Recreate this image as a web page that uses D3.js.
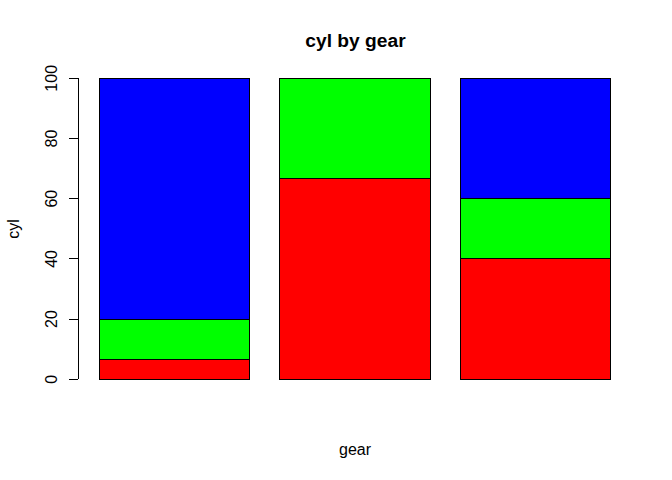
<!DOCTYPE html>
<html><head><meta charset="utf-8">
<script src="https://cdn.jsdelivr.net/npm/d3@7"></script>
<style>body{margin:0;background:#fff}svg{display:block}</style>
</head><body>
<script>
const gears = ["3", "4", "5"];
const cylLevels = ["4", "6", "8"];
const cyl4 = [6.667, 66.667, 40];
const cyl6 = [13.333, 33.333, 20];
const cyl8 = [80, 0, 40];
const yTicks = [0, 20, 40, 60, 80, 100];
const colors = ["#ff0000", "#00ff00", "#0000ff"];

const W = 672, H = 480;
const svg = d3.select("body").append("svg").attr("width", W).attr("height", H)
  .style("font-family", "'Liberation Sans', Arial, sans-serif");

const x = d3.scaleBand().domain(gears).range([84.3, 626]).paddingInner(0.1662).paddingOuter(0.0831);
const y = d3.scaleLinear().domain([0, 100]).range([379.3, 78.3]);

const rows = gears.map((g, i) => ({gear: g, "4": cyl4[i], "6": cyl6[i], "8": cyl8[i]}));
const series = d3.stack().keys(cylLevels)(rows);

svg.append("g").selectAll("g").data(series).join("g")
  .attr("fill", (d, i) => colors[i])
  .selectAll("rect").data(d => d.filter(s => s[1] - s[0] > 0)).join("rect")
  .attr("x", d => x(d.data.gear))
  .attr("width", x.bandwidth())
  .attr("y", d => y(d[1]))
  .attr("height", d => y(d[0]) - y(d[1]))
  .attr("stroke", "#000").attr("stroke-width", 1)
  .attr("shape-rendering", "crispEdges");

// y axis
const ax = svg.append("g").attr("transform", "translate(78,0)").attr("shape-rendering", "crispEdges");
ax.append("line").attr("x1", 0).attr("x2", 0).attr("y1", y(0)).attr("y2", y(100)).attr("stroke", "#000");
ax.selectAll("line.t").data(yTicks).join("line").attr("class", "t")
  .attr("x1", -9).attr("x2", 0).attr("y1", d => y(d)).attr("y2", d => y(d)).attr("stroke", "#000");
ax.selectAll("text").data(yTicks).join("text")
  .attr("transform", d => `translate(-21,${y(d)}) rotate(-90)`)
  .attr("text-anchor", "middle").attr("font-size", 16).attr("fill", "#000")
  .text(d => d);

svg.append("text").attr("x", 355.5).attr("y", 46.7).attr("text-anchor", "middle")
  .attr("font-size", 19.2).attr("font-weight", "bold").text("cyl by gear");
svg.append("text").attr("x", 355).attr("y", 455).attr("text-anchor", "middle")
  .attr("font-size", 16).text("gear");
svg.append("text").attr("transform", "translate(18.5,229) rotate(-90)").attr("text-anchor", "middle")
  .attr("font-size", 16).text("cyl");
</script>
</body></html>
